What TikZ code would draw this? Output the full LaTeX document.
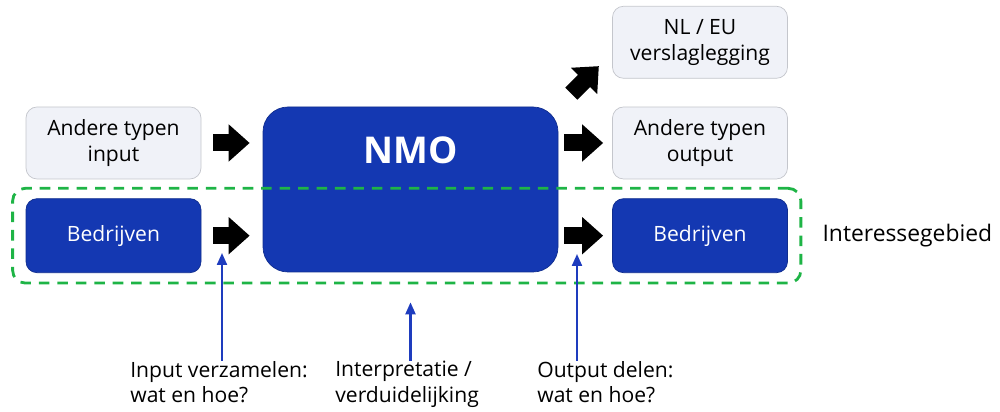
\documentclass[tikz,border=0pt]{standalone}
\usepackage{fontspec}
\setmainfont{Open Sans}
\usetikzlibrary{positioning, arrows.meta, fit}

\definecolor{nmoblue}{RGB}{20,56,178}
\definecolor{lightbox}{RGB}{240,242,248}
\definecolor{lightedge}{RGB}{196,198,204}
\definecolor{zonegreen}{RGB}{30,180,70}
\definecolor{pointblue}{RGB}{30,60,190}

\begin{document}
\begin{tikzpicture}[
    every node/.style={align=center},
    txt/.style={font=\fontsize{12}{14.5}\selectfont},
    greybox/.style={txt, rectangle, rounded corners=0.22cm, draw=lightedge, fill=lightbox, minimum width=3.5cm, minimum height=1.44cm, inner sep=0pt},
    bluebox/.style={txt, rectangle, rounded corners=0.22cm, draw=nmoblue!80!black, fill=nmoblue, text=white, minimum width=3.5cm, minimum height=1.48cm, inner sep=0pt},
    bigarrow/.style={line width=0.34cm, -{Triangle[length=0.42cm, width=0.72cm]}},
    infoarrow/.style={-{Triangle[length=0.24cm, width=0.2cm]}, line width=1.2pt, pointblue},
    interest/.style={draw=zonegreen, line width=1.6pt, dash pattern=on 6pt off 4.5pt, rounded corners=0.25cm, inner xsep=0.26cm, inner ysep=0.2cm},
    note/.style={txt, align=left, inner sep=0pt}
]
\useasboundingbox (0,0) rectangle (20,8.24);

% invoer
\node[greybox] (inA) at (2.27, 5.38) {Andere typen\\input};
\node[bluebox, below=0.38cm of inA] (bedrL) {Bedrijven};

% NMO
\node[rectangle, rounded corners=0.5cm, draw=nmoblue!80!black, fill=nmoblue, minimum width=5.9cm, minimum height=3.3cm] (nmo) at (8.21, 4.45) {};
\node[font=\fontsize{21}{24}\selectfont\bfseries, text=white] (nmoLbl) at ([yshift=-0.87cm]nmo.north) {NMO};

% uitvoer
\node[greybox] (outA) at (14.0, 5.38) {Andere typen\\output};
\node[greybox, above=0.56cm of outA] (nlEU) {NL / EU\\verslaglegging};
\node[bluebox, below=0.38cm of outA] (bedrR) {Bedrijven};

% interessegebied
\node[interest, fit=(bedrL)(bedrR)] (zone) {};
\node[txt, font=\fontsize{13}{15}\selectfont, inner sep=0pt, right=0.4cm of zone] (zoneLbl) {Interessegebied};

% blokpijlen
\draw[bigarrow, shorten <=0.24cm, shorten >=0.26cm] (inA) -- (inA -| nmo.west);
\draw[bigarrow, shorten <=0.24cm, shorten >=0.26cm] (bedrL) -- (bedrL -| nmo.west);
\draw[bigarrow, shorten <=0.12cm, shorten >=0.18cm] (outA -| nmo.east) -- (outA);
\draw[bigarrow, shorten <=0.12cm, shorten >=0.18cm] (bedrR -| nmo.east) -- (bedrR);
\coordinate (upS) at ([shift={(0.26,0.26)}]nmo.north east);
\coordinate (upE) at ([shift={(0.55,0.55)}]upS);
\draw[bigarrow] (upS) -- (upE);

% toelichting
\node[note, anchor=north west] (lblIn) at (2.6, 1.02) {Input verzamelen:\\wat en hoe?};
\node[note, anchor=north west] (lblMid) at (6.7, 1.02) {Interpretatie /\\verduidelijking};
\node[note, anchor=north west] (lblOut) at (10.74, 1.02) {Output delen:\\wat en hoe?};

\coordinate (tipIn) at (4.44, 3.18);
\coordinate (tipMid) at ([yshift=-0.6cm]nmo.south);
\coordinate (tipOut) at (11.54, 3.16);
\draw[infoarrow] (tipIn |- lblIn.north) -- (tipIn);
\draw[infoarrow] (tipMid |- lblMid.north) -- (tipMid);
\draw[infoarrow] (tipOut |- lblOut.north) -- (tipOut);

\end{tikzpicture}
\end{document}
